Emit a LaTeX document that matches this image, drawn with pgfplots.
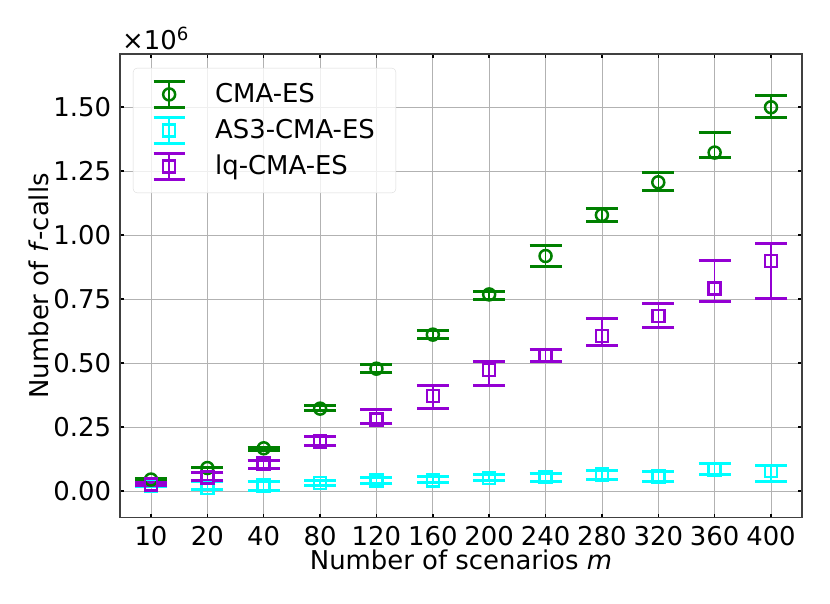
\documentclass[border=0pt]{standalone}
\usepackage{fontspec}
\setmainfont{DejaVu Sans}
\usepackage{pgfplots}
\pgfplotsset{compat=1.18}
\usepackage{pgfplotstable}

\definecolor{cgreen}{HTML}{008000}
\definecolor{ccyan}{HTML}{00FFFF}
\definecolor{cpurple}{HTML}{9400D3}

% values in units of 10^6 f-calls; ep/em = upper/lower error
\pgfplotstableread{
x y ep em
0 0.045 0.004 0.006
1 0.090 0.004 0.016
2 0.167 0.004 0.007
3 0.322 0.013 0.009
4 0.478 0.018 0.016
5 0.611 0.015 0.017
6 0.768 0.013 0.019
7 0.918 0.040 0.040
8 1.078 0.027 0.025
9 1.206 0.039 0.033
10 1.322 0.078 0.020
11 1.499 0.044 0.039
}\cmatab
\pgfplotstableread{
x y ep em
0 0.022 0.007 0.006
1 0.012 0.026 0.004
2 0.021 0.015 0.017
3 0.031 0.012 0.009
4 0.042 0.011 0.012
5 0.042 0.014 0.010
6 0.052 0.012 0.012
7 0.055 0.013 0.019
8 0.065 0.017 0.018
9 0.056 0.021 0.017
10 0.082 0.026 0.018
11 0.078 0.022 0.039
}\asthreetab
\pgfplotstableread{
x y ep em
0 0.025 0.010 0.005
1 0.053 0.020 0.010
2 0.107 0.014 0.018
3 0.194 0.018 0.017
4 0.280 0.038 0.018
5 0.371 0.040 0.050
6 0.473 0.034 0.059
7 0.527 0.026 0.020
8 0.605 0.068 0.037
9 0.684 0.050 0.045
10 0.792 0.109 0.050
11 0.898 0.067 0.147
}\lqtab

\pgfplotsset{
  errleg/.style={
    legend image code/.code={
      \draw[line width=1.5bp] (15.5bp,-12.8bp) -- (15.5bp,12.8bp);
      \draw[line width=3bp] (0bp,-12.8bp) -- (31bp,-12.8bp);
      \draw[line width=3bp] (0bp,12.8bp) -- (31bp,12.8bp);
      \draw[only marks] plot coordinates {(15.5bp,0bp)};
    }
  },
  errstyle/.style={
    only marks,
    errleg,
    mark size=6bp,
    every mark/.append style={line width=2.5bp},
    error bars/y dir=both,
    error bars/y explicit,
    error bars/error bar style={line width=1.5bp},
    error bars/error mark=-,
    error bars/error mark options={rotate=90, line width=3bp, mark size=16bp},
  }
}

\begin{document}
\fontsize{26}{31}\selectfont
\begin{tikzpicture}
\begin{axis}[
  name=ax,
  scale only axis,
  width=682bp, height=463.7bp,
  xmin=-0.55, xmax=11.55,
  ymin=-0.104, ymax=1.707,
  xtick={0,1,2,3,4,5,6,7,8,9,10,11},
  xticklabels={10,20,40,80,120,160,200,240,280,320,360,400},
  ytick={0,0.25,0.5,0.75,1,1.25,1.5},
  scaled y ticks=false,
  /pgf/number format/assume math mode=true,
  yticklabel style={/pgf/number format/.cd, fixed, fixed zerofill, precision=2},
  tick label style={font=\fontsize{26}{31}\selectfont},
  label style={font=\fontsize{26}{31}\selectfont},
  xlabel={Number of scenarios \textit{m}},
  ylabel={Number of \textit{f}-calls},
  xlabel style={yshift=14bp},
  ylabel style={yshift=-13bp},
  grid=major,
  major grid style={black!30, line width=0.8bp},
  tick align=inside,
  major tick length=4bp,
  tick style={black, line width=1.5bp},
  axis line style={black!75, line width=1.2bp},
  legend style={
    at={(0.019,0.970)}, anchor=north west,
    font=\fontsize{26}{31}\selectfont,
    draw=black!15, rounded corners=4bp, fill=white, fill opacity=0.8, text opacity=1,
    row sep=7.5bp, inner xsep=19bp, inner ysep=12bp,
    /tikz/every odd column/.append style={column sep=27bp},
  },
  legend cell align=left,
]
\addplot[errstyle, color=cgreen, mark=o]
  table[x=x, y=y, y error plus=ep, y error minus=em] {\cmatab};
\addlegendentry{CMA-ES}
\addplot[errstyle, color=ccyan, mark=square]
  table[x=x, y=y, y error plus=ep, y error minus=em] {\asthreetab};
\addlegendentry{AS3-CMA-ES}
\addplot[errstyle, color=cpurple, mark=square]
  table[x=x, y=y, y error plus=ep, y error minus=em] {\lqtab};
\addlegendentry{lq-CMA-ES}
\end{axis}
\node[anchor=south west, inner sep=0pt] at ([xshift=2bp,yshift=4bp]ax.north west) {×10\textsuperscript{6}};
\pgfresetboundingbox
\path ([xshift=-120bp,yshift=-86.3bp]ax.south west) rectangle ([xshift=28bp,yshift=54bp]ax.north east);
\end{tikzpicture}
\end{document}
